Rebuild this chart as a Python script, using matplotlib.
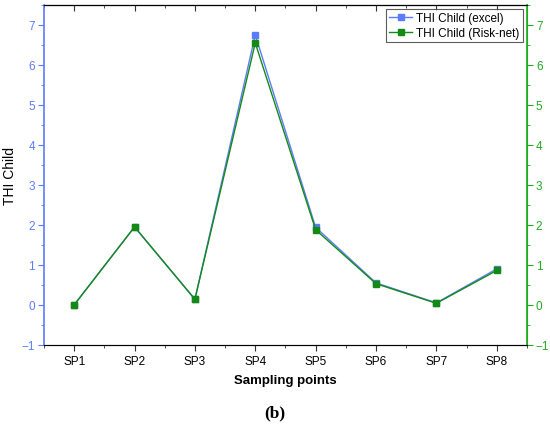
import numpy as np
import matplotlib
matplotlib.use("Agg")
import matplotlib.pyplot as plt
from matplotlib.ticker import MultipleLocator

points = ["SP1", "SP2", "SP3", "SP4", "SP5", "SP6", "SP7", "SP8"]
thi_excel = [0.0, 1.95, 0.14, 6.75, 1.94, 0.55, 0.05, 0.90]
thi_risknet = [0.0, 1.95, 0.14, 6.55, 1.88, 0.53, 0.04, 0.86]

blue = "#5b7cff"
green = "#138a13"
axis_green = "#22aa22"

plt.rcParams["font.family"] = ["Liberation Sans", "DejaVu Sans"]

fig = plt.figure(figsize=(5.5, 4.27), dpi=100)
ax = fig.add_axes([0.08, 0.19, 0.878, 0.796])

x = np.arange(1, len(points) + 1)
ax.plot(x, thi_excel, color=blue, marker="s", markersize=5, lw=1.0,
        label="THI Child (excel)")
ax.plot(x, thi_risknet, color=green, marker="s", markersize=5, lw=1.0,
        label="THI Child (Risk-net)")

ax.set_xlim(0.5, len(points) + 0.5)
ax.set_ylim(-1, 7.5)
ax.set_xticks(x)
ax.set_xticklabels(points, fontsize=8.5)
ax.xaxis.set_minor_locator(MultipleLocator(0.5))
ax.yaxis.set_major_locator(MultipleLocator(1))
ax.yaxis.set_minor_locator(MultipleLocator(0.5))

ax.tick_params(axis="x", which="both", direction="out", color="#333333")
ax.tick_params(axis="x", which="major", length=4)
ax.tick_params(axis="x", which="minor", length=2.5)
ax.tick_params(axis="y", which="both", colors=blue, labelsize=8.5, pad=2.5)
ax.tick_params(axis="y", which="major", length=4)
ax.tick_params(axis="y", which="minor", length=2.5)

# top axis: ticks pointing inward, no labels
top = ax.secondary_xaxis("top")
top.set_xticks(x)
top.xaxis.set_minor_locator(MultipleLocator(0.5))
top.tick_params(axis="x", which="both", direction="in", labeltop=False,
                color="#333333")
top.tick_params(axis="x", which="major", length=4)
top.tick_params(axis="x", which="minor", length=2.5)
top.spines["top"].set_color("#333333")

ax.spines["left"].set_color(blue)
ax.spines["left"].set_linewidth(1.2)
ax.spines["right"].set_color(axis_green)
ax.spines["top"].set_color("#333333")
ax.spines["bottom"].set_color("#333333")

ax2 = ax.twinx()
ax2.set_ylim(ax.get_ylim())
ax2.yaxis.set_major_locator(MultipleLocator(1))
ax2.yaxis.set_minor_locator(MultipleLocator(0.5))
ax2.tick_params(axis="y", which="both", colors=axis_green, labelsize=8.5,
                pad=2.5)
ax2.tick_params(axis="y", which="major", length=4)
ax2.tick_params(axis="y", which="minor", length=2.5)
ax2.spines["right"].set_color(axis_green)
ax2.spines["right"].set_linewidth(1.2)
ax2.spines["left"].set_visible(False)

ax.set_ylabel("THI Child", fontsize=10)
ax.yaxis.set_label_coords(-0.056, 0.5)
ax.set_xlabel("Sampling points", fontsize=9.5, fontweight="bold", labelpad=5)

leg = ax.legend(loc="upper right", fontsize=8.5, fancybox=False,
                edgecolor="#333333", borderpad=0.25, labelspacing=0.25,
                handlelength=1.9, handletextpad=0.4, borderaxespad=0.35)
leg.get_frame().set_linewidth(0.8)

fig.text(0.5, 0.033, "(b)", ha="center", va="center", fontsize=12.5,
         fontweight="bold", family=["Liberation Serif", "DejaVu Serif"])

fig.savefig("out.png", dpi=100)
